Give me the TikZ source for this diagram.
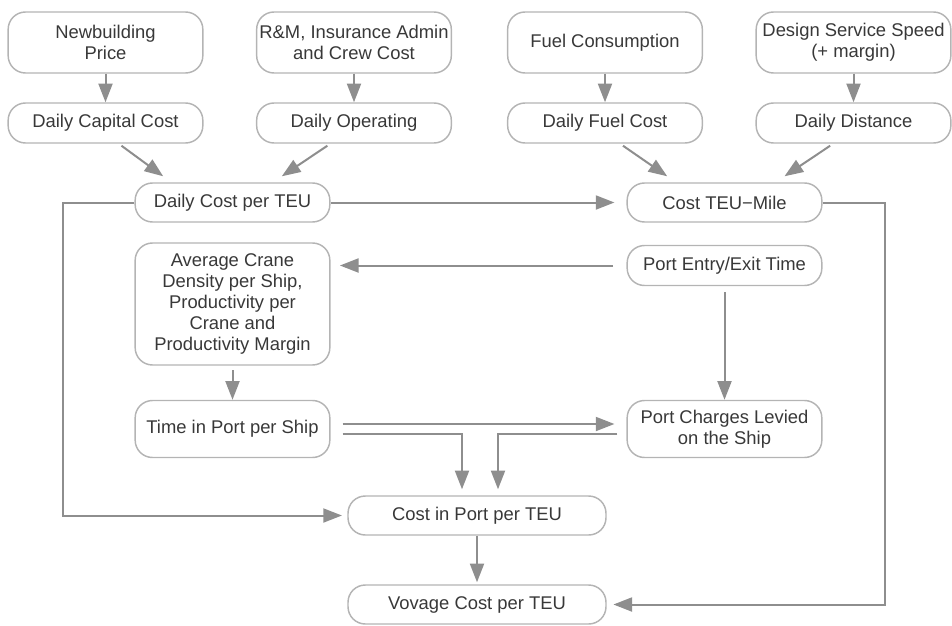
\documentclass[tikz,border=0pt]{standalone}
\usepackage{fontspec}
\setmainfont{Liberation Sans}
\usetikzlibrary{arrows.meta}
\definecolor{boxgray}{HTML}{B4B4B4}
\definecolor{linegray}{HTML}{8E8E8E}
\definecolor{textgray}{HTML}{383838}
\begin{document}
\begin{tikzpicture}[x=0.75pt,y=-0.75pt,>={Triangle[length=14pt,width=10.5pt]},
	box/.style={draw=boxgray,line width=1.1pt,rounded corners=13pt,align=center,text=textgray,
		minimum width=146pt,minimum height=30pt,inner sep=1.5pt,font=\fontsize{13.8}{15.6}\selectfont},
	arr/.style={->,draw=linegray,line width=1.5pt}]
	\useasboundingbox (0,0) rectangle (952,625);
	\node[box,minimum height=45.75pt] (newb) at (105.5,42.5) {Newbuilding\\Price};
	\node[box,minimum height=45.75pt] (rmc) at (354,42.5) {R\&M, Insurance Admin\\and Crew Cost};
	\node[box,minimum height=45.75pt] (fuel) at (605,42.5) {Fuel Consumption};
	\node[box,minimum height=45.75pt] (speed) at (853.5,42.5) {Design Service Speed\\(+ margin)};
	\node[box] (capital) at (105.5,123) {Daily Capital Cost};
	\node[box] (operating) at (354,123) {Daily Operating};
	\node[box] (fuelcost) at (605,123) {Daily Fuel Cost};
	\node[box] (distance) at (853.5,123) {Daily Distance};
	\node[box,minimum height=29.25pt] (dailyteu) at (232.5,202.5) {Daily Cost per TEU};
	\node[box,minimum height=29.25pt] (teumile) at (724.5,202.5) {Cost TEU−Mile};
	\node[box,minimum height=91.5pt] (crane) at (232.5,304) {Average Crane\\Density per Ship,\\Productivity per\\Crane and\\Productivity Margin};
	\node[box] (entry) at (724.5,265.5) {Port Entry/Exit Time};
	\node[box,minimum height=42.75pt] (timeport) at (232.5,429) {Time in Port per Ship};
	\node[box,minimum height=42.75pt] (charges) at (724.5,429) {Port Charges Levied\\on the Ship};
	\node[box,minimum width=193.5pt,minimum height=29.25pt] (costport) at (477,515.5) {Cost in Port per TEU};
	\node[box,minimum width=193.5pt,minimum height=29.25pt] (voyage) at (477,604.5) {Vovage Cost per TEU};
	\draw[arr] (newb) -- (capital);
	\draw[arr] (rmc) -- (operating);
	\draw[arr] (fuel) -- (fuelcost);
	\draw[arr] (speed) -- (distance);
	\draw[arr] ([xshift=12pt,yshift=-1.5pt]capital.south) -- ([xshift=-52pt,yshift=4.5pt]dailyteu.north);
	\draw[arr] ([xshift=-20pt,yshift=-1.5pt]operating.south) -- ([xshift=37pt,yshift=4.5pt]dailyteu.north);
	\draw[arr] ([xshift=13.5pt,yshift=-1.5pt]fuelcost.south) -- ([xshift=-43pt,yshift=4.5pt]teumile.north);
	\draw[arr] ([xshift=-17.5pt,yshift=-1.5pt]distance.south) -- ([xshift=45pt,yshift=4.5pt]teumile.north);
	\draw[arr,shorten >=9pt] (dailyteu) -- (teumile);
	\draw[arr,shorten >=4pt] (dailyteu.west) -- ++(-71,0) |- (costport.west);
	\draw[arr,shorten >=5pt] (teumile.east) -- ++(62,0) |- (voyage.east);
	\draw[arr,shorten <=10pt,shorten >=7pt] (entry.west) -- (entry.west -| crane.east);
	\draw[arr,shorten <=3.5pt] (crane) -- (timeport);
	\draw[arr,shorten <=4.5pt] (entry) -- (charges);
	\draw[arr,shorten <=9pt,shorten >=9pt] ([yshift=3.75pt]timeport.east) -- ([yshift=3.75pt]charges.west);
	\draw[arr,shorten >=4.5pt] ([xshift=9pt,yshift=-3.75pt]timeport.east) -| ([xshift=-11.25pt]costport.north);
	\draw[arr,shorten >=4.5pt] ([xshift=-6.75pt,yshift=-3.75pt]charges.west) -| ([xshift=15.75pt]costport.north);
	\draw[arr,shorten >=1.5pt] (costport) -- (voyage);
\end{tikzpicture}
\end{document}
